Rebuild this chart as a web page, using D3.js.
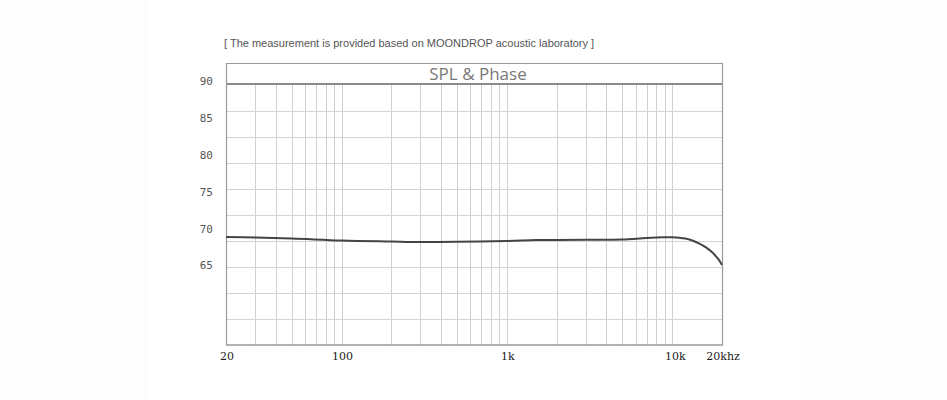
<!DOCTYPE html>
<html>
<head>
<meta charset="utf-8">
<script src="https://cdn.jsdelivr.net/npm/d3@7"></script>
<style>
  html, body { margin: 0; padding: 0; background: #fdfdfd; }
  svg { display: block; }
</style>
</head>
<body>
<svg id="chart" width="947" height="400"></svg>
<script>
// ---- data ----
const freqs = [20, 30, 50, 100, 200, 300, 500, 1000, 1500, 2000, 3000, 5000, 7000, 9000, 10000, 11000, 12000, 13000, 14500, 16000, 17500, 19000, 20000];
const spl   = [68.86, 68.79, 68.66, 68.39, 68.25, 68.18, 68.21, 68.32, 68.46, 68.47, 68.48, 68.52, 68.73, 68.82, 68.82, 68.77, 68.66, 68.46, 68.0, 67.45, 66.75, 65.85, 65.07];
const yTickValues = [90, 85, 80, 75, 70, 65];
const xTickValues = [20, 100, 1000, 10000, 20000];
const xTickLabels = ["20", "100", "1k", "10k", "20khz"];
const xGridValues = [30, 40, 50, 60, 70, 80, 90, 100, 200, 300, 400, 500, 600, 700, 800, 900, 1000,
                     2000, 3000, 4000, 5000, 6000, 7000, 8000, 9000, 10000];
const hGridIndex = [1, 2, 3, 4, 5, 6, 7, 8, 9];
const titleText = "SPL & Phase";
const noteText = "[ The measurement is provided based on MOONDROP acoustic laboratory ]";

// ---- layout ----
const svg = d3.select("#chart");
const left = 226, right = 722, headerTop = 63, plotTop = 84, plotBottom = 345;

svg.append("rect").attr("x", 147).attr("y", 0).attr("width", 653).attr("height", 400).attr("fill", "#ffffff");

const x = d3.scaleLog().domain([20, 20000]).range([left, right]);
const y = d3.scaleLinear().domain([65, 90]).range([265.5, 81]);
const gy = d3.scaleLinear().domain([0, 10]).range([85.5, 345.5]);

// note
svg.append("text").attr("x", 224).attr("y", 46.5)
  .attr("font-family", "Liberation Sans, Arial, sans-serif").attr("font-size", 11)
  .attr("fill", "#555").text(noteText);

// vertical grid
svg.append("g").selectAll("line").data(xGridValues).join("line")
  .attr("x1", d => Math.round(x(d)) + 0.5).attr("x2", d => Math.round(x(d)) + 0.5)
  .attr("y1", plotTop).attr("y2", plotBottom)
  .attr("stroke", "#cfcfcf").attr("stroke-width", 1);

// horizontal grid
svg.append("g").selectAll("line").data(hGridIndex).join("line")
  .attr("x1", left).attr("x2", right)
  .attr("y1", d => gy(d)).attr("y2", d => gy(d))
  .attr("stroke", "#d4d4d4").attr("stroke-width", 1);

// header box
svg.append("line").attr("x1", left).attr("x2", right).attr("y1", headerTop + 0.5).attr("y2", headerTop + 0.5)
  .attr("stroke", "#999").attr("stroke-width", 1);
svg.append("line").attr("x1", left).attr("x2", right).attr("y1", plotTop).attr("y2", plotTop)
  .attr("stroke", "#666").attr("stroke-width", 1.6);
// frame
svg.append("line").attr("x1", left + 0.5).attr("x2", left + 0.5).attr("y1", headerTop).attr("y2", plotBottom)
  .attr("stroke", "#999").attr("stroke-width", 1.2);
svg.append("line").attr("x1", right + 0.5).attr("x2", right + 0.5).attr("y1", headerTop).attr("y2", plotBottom)
  .attr("stroke", "#999").attr("stroke-width", 1.2);
svg.append("line").attr("x1", left).attr("x2", right + 1).attr("y1", plotBottom).attr("y2", plotBottom)
  .attr("stroke", "#999").attr("stroke-width", 1.4);

// title
svg.append("text").attr("x", 478).attr("y", 80).attr("text-anchor", "middle")
  .attr("font-family", "Open Sans, sans-serif").attr("font-size", 17)
  .attr("fill", "#777").text(titleText);

// y labels
svg.append("g").selectAll("text").data(yTickValues).join("text")
  .attr("x", 213).attr("y", d => y(d)).attr("dy", "0.36em").attr("text-anchor", "end")
  .attr("font-family", "DejaVu Sans Mono, monospace").attr("font-size", 11)
  .attr("fill", "#555").text(d => d);

// x labels
svg.append("g").selectAll("text").data(xTickValues).join("text")
  .attr("x", (d, i) => x(d) + (i === 3 ? 3 : 1)).attr("y", 360).attr("text-anchor", "middle")
  .attr("font-family", "DejaVu Serif, serif").attr("font-size", 11)
  .attr("fill", "#1a1a1a")
  .text((d, i) => xTickLabels[i]);

// curve
const line = d3.line().x(d => x(d[0])).y(d => y(d[1])).curve(d3.curveCatmullRom.alpha(0.5));
svg.append("path").datum(freqs.map((f, i) => [f, spl[i]]))
  .attr("d", line).attr("fill", "none").attr("stroke", "#444").attr("stroke-width", 2);
</script>
</body>
</html>
